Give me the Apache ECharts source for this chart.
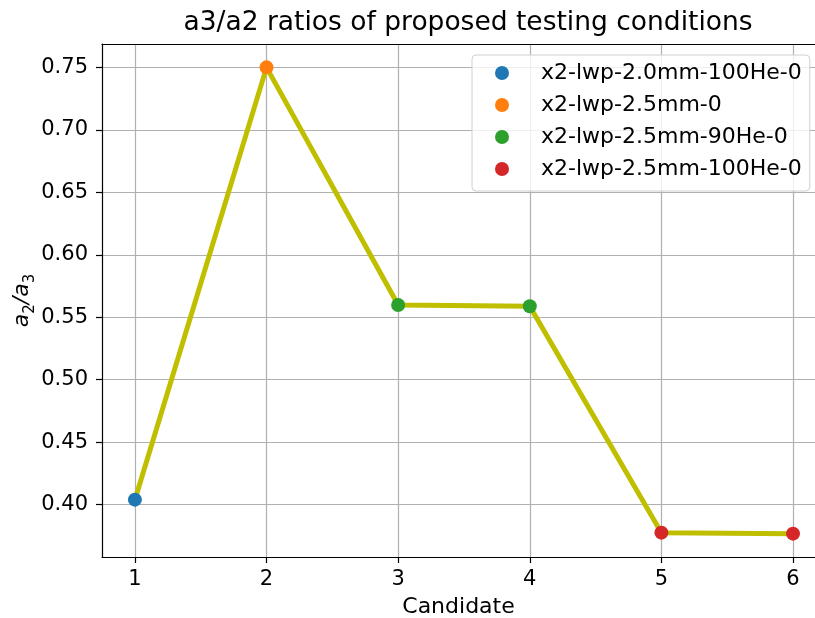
<!DOCTYPE html>
<html>
<head>
<meta charset="utf-8">
<script src="https://cdn.jsdelivr.net/npm/echarts@6/dist/echarts.min.js"></script>
<style>
  html, body { margin: 0; padding: 0; background: #fff; }
  #chart { width: 815px; height: 618px; }
</style>
</head>
<body>
<div id="chart"></div>
<script>
// Candidate index and ratio values
const candidates = [1, 2, 3, 4, 5, 6];
const ratios = [0.404, 0.750, 0.5598, 0.5588, 0.3776, 0.3768];

// Marker groups: legend name, colour, candidates that belong to it
const groupNames = ['x2-lwp-2.0mm-100He-0', 'x2-lwp-2.5mm-0', 'x2-lwp-2.5mm-90He-0', 'x2-lwp-2.5mm-100He-0'];
const groupColors = ['#1f77b4', '#ff7f0e', '#2ca02c', '#d62728'];
const groupMembers = [[1], [2], [3, 4], [5, 6]];

// Tick values
const xTicks = [1, 2, 3, 4, 5, 6];
const yTicks = [0.40, 0.45, 0.50, 0.55, 0.60, 0.65, 0.70, 0.75];

const FONT = 'DejaVu Sans';
const chart = echarts.init(document.getElementById('chart'), null, { renderer: 'canvas' });

const linePoints = candidates.map((c, i) => [c, ratios[i]]);
const scatterSeries = groupNames.map((name, g) => ({
  name: name,
  type: 'scatter',
  symbol: 'circle',
  symbolSize: 14,
  itemStyle: { color: groupColors[g], opacity: 1 },
  z: 5,
  data: groupMembers[g].map(c => [c, ratios[candidates.indexOf(c)]])
}));

chart.setOption({
  animation: false,
  backgroundColor: '#fff',
  title: {
    text: 'a3/a2 ratios of proposed testing conditions',
    left: 463, top: 5, textAlign: 'center',
    textStyle: { fontFamily: FONT, fontSize: 26.5, fontWeight: 'normal', color: '#000' }
  },
  legend: {
    orient: 'vertical',
    left: 472, top: 55,
    data: groupNames.map((n, g) => ({ name: n, icon: 'circle', itemStyle: { color: groupColors[g] } })),
    itemWidth: 14, itemHeight: 14,
    itemGap: 8,
    padding: [6, 8, 10, 23],
    backgroundColor: 'rgba(255,255,255,0.8)',
    borderColor: '#d0d0d0', borderWidth: 1, borderRadius: 4,
    textStyle: { fontFamily: FONT, fontSize: 22, color: '#000', lineHeight: 24, padding: [0, 0, 0, 27] }
  },
  grid: { left: 102, top: 44, width: 713, height: 513, containLabel: false, outerBoundsMode: 'none' },
  xAxis: [{
    type: 'value', min: 0.75, max: 6.167,
    name: 'Candidate', nameLocation: 'middle', nameGap: 39, nameMoveOverlap: false,
    nameTextStyle: { fontFamily: FONT, fontSize: 22, color: '#000' },
    axisLine: { show: true, onZero: false, lineStyle: { color: '#000', width: 1.2 } },
    axisTick: { show: true, length: 6, customValues: xTicks, lineStyle: { color: '#000', width: 1.2 } },
    axisLabel: { customValues: xTicks, margin: 12, fontFamily: FONT, fontSize: 21, color: '#000', formatter: v => String(v) },
    splitLine: { show: true, lineStyle: { color: '#b0b0b0', width: 1.2 } }
  }, {
    type: 'value', position: 'top', min: 0.75, max: 6.167,
    axisLine: { show: true, onZero: false, lineStyle: { color: '#000', width: 1.2 } },
    axisTick: { show: false }, axisLabel: { show: false }, splitLine: { show: false }
  }],
  yAxis: {
    type: 'value', min: 0.3581, max: 0.7687,
    name: '{i|a}{s|2}{i|/a}{s|3}', nameLocation: 'middle', nameRotate: 90, nameGap: 64, nameMoveOverlap: false,
    nameTextStyle: {
      fontFamily: FONT, fontSize: 22, color: '#000',
      rich: {
        i: { fontFamily: FONT, fontSize: 22, fontStyle: 'italic', color: '#000', padding: [0, 0, 5, 0] },
        s: { fontFamily: FONT, fontSize: 15, fontStyle: 'normal', color: '#000', verticalAlign: 'bottom' }
      }
    },
    axisLine: { show: true, onZero: false, lineStyle: { color: '#000', width: 1.2 } },
    axisTick: { show: true, length: 6, customValues: yTicks, lineStyle: { color: '#000', width: 1.2 } },
    axisLabel: { customValues: yTicks, margin: 14, fontFamily: FONT, fontSize: 21, color: '#000', formatter: v => v.toFixed(2) },
    splitLine: { show: true, lineStyle: { color: '#b0b0b0', width: 1.2 } }
  },
  series: [{
    name: 'ratio',
    type: 'line',
    data: linePoints,
    symbol: 'none',
    lineStyle: { color: '#bfbf00', width: 5 },
    itemStyle: { color: '#bfbf00' },
    z: 2
  }].concat(scatterSeries)
});
</script>
</body>
</html>
